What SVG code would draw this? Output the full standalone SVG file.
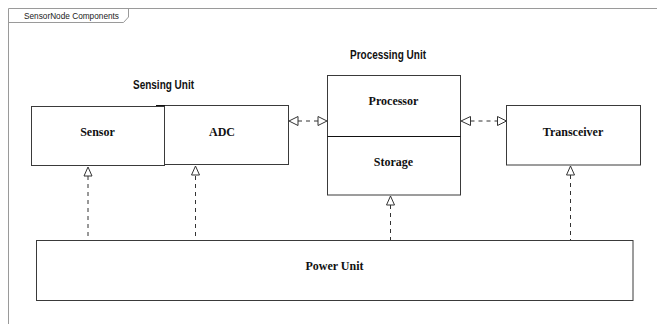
<svg xmlns="http://www.w3.org/2000/svg" width="657" height="324" viewBox="0 0 657 324">
<style>
.frame{fill:none;stroke:#9a9a9a;stroke-width:1}
.box{fill:#fff;stroke:#3a3a3a;stroke-width:1}
.lbl{font-family:"Liberation Serif","Times New Roman",serif;font-weight:bold;font-size:12px;fill:#111;text-anchor:middle}
.grp{font-family:"Liberation Sans",Arial,sans-serif;font-weight:bold;font-size:12.5px;fill:#111;text-anchor:middle}
.dep{fill:none;stroke:#333;stroke-width:1;stroke-dasharray:4,4}
.tri{fill:#fff;stroke:#333;stroke-width:1}
</style>
<rect width="657" height="324" fill="#fff"/>
<g id="frame">
<path class="frame" d="M8.5,324 V8.5 H657"/>
<path class="frame" d="M8.5,22.5 H123.5 L128.5,17 V8.5"/>
<text x="24" y="19" font-family="Liberation Sans,Arial,sans-serif" font-size="9" fill="#222" textLength="95" lengthAdjust="spacingAndGlyphs">SensorNode Components</text>
</g>
<g id="sensing-unit-label">
<text class="grp" x="163.5" y="88.5" textLength="61" lengthAdjust="spacingAndGlyphs">Sensing Unit</text>
</g>
<g id="processing-unit-label">
<text class="grp" x="388" y="58.5" textLength="76" lengthAdjust="spacingAndGlyphs">Processing Unit</text>
</g>
<g id="sensor">
<rect class="box" x="31.5" y="106.5" width="133" height="59"/>
<text class="lbl" x="97.5" y="136">Sensor</text>
</g>
<g id="adc">
<rect class="box" x="164.5" y="105.5" width="124" height="59"/>
<line x1="156" y1="105.5" x2="165" y2="105.5" stroke="#111" stroke-width="1"/>
<text class="lbl" x="222" y="136">ADC</text>
</g>
<g id="processor">
<rect class="box" x="327.5" y="75.5" width="133" height="61"/>
<text class="lbl" x="393.5" y="105">Processor</text>
</g>
<g id="storage">
<rect class="box" x="327.5" y="136.5" width="133" height="58.5"/>
<line x1="327.5" y1="136.5" x2="460.5" y2="136.5" stroke="#111" stroke-width="1.2"/>
<text class="lbl" x="393.5" y="166">Storage</text>
</g>
<g id="transceiver">
<rect class="box" x="506.5" y="105.5" width="134" height="59.5"/>
<text class="lbl" x="573" y="136">Transceiver</text>
</g>
<g id="power-unit">
<rect class="box" x="36.5" y="240.5" width="596.5" height="60"/>
<text class="lbl" x="334.5" y="270">Power Unit</text>
</g>
<g id="connectors">
<!-- ADC <-> Processor -->
<line class="dep" x1="298" y1="121" x2="318" y2="121"/>
<path class="tri" d="M289,121 L298,116.5 L298,125.5 Z"/>
<path class="tri" d="M327,121 L318,116.5 L318,125.5 Z"/>
<!-- Processor <-> Transceiver -->
<line class="dep" x1="470.5" y1="121" x2="497.5" y2="121"/>
<path class="tri" d="M461,121 L470.5,116.5 L470.5,125.5 Z"/>
<path class="tri" d="M506.5,121 L497.5,116.5 L497.5,125.5 Z"/>
<!-- Power Unit -> Sensor -->
<line class="dep" x1="88" y1="176" x2="88" y2="240"/>
<path class="tri" d="M88,167 L84,176 L92,176 Z"/>
<!-- Power Unit -> ADC -->
<line class="dep" x1="195.5" y1="176" x2="195.5" y2="240"/>
<path class="tri" d="M195.5,166 L191.5,175 L199.5,175 Z"/>
<!-- Power Unit -> Storage -->
<line class="dep" x1="390.5" y1="205" x2="390.5" y2="240"/>
<path class="tri" d="M390.5,196 L386.5,205 L394.5,205 Z"/>
<!-- Power Unit -> Transceiver -->
<line class="dep" x1="570.5" y1="175" x2="570.5" y2="240"/>
<path class="tri" d="M570.5,166 L566.5,175 L574.5,175 Z"/>
</g>
</svg>
